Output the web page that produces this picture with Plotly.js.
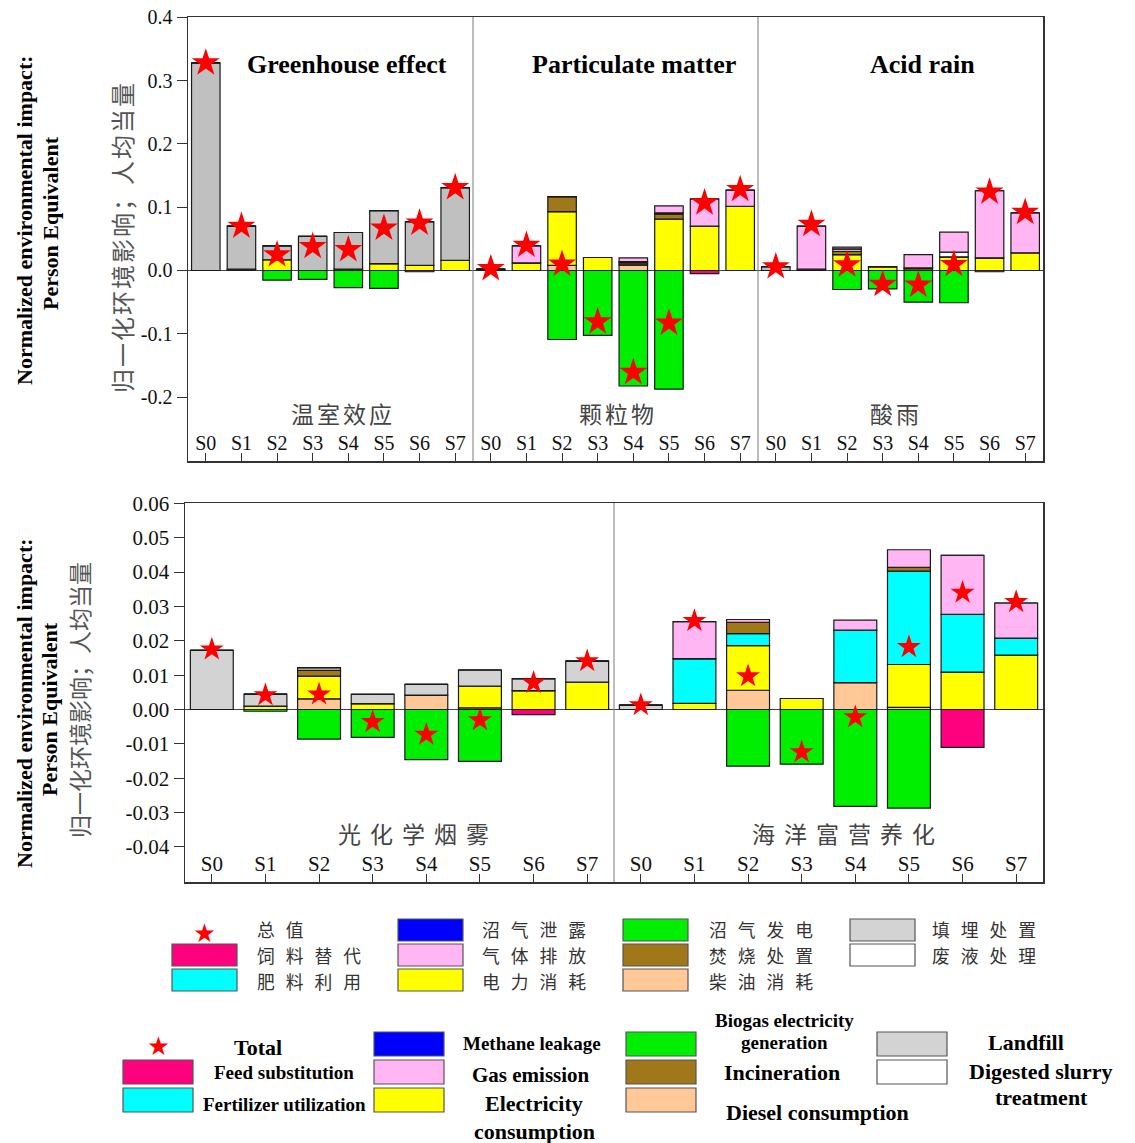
<!DOCTYPE html>
<html><head><meta charset="utf-8">
<script src="https://cdn.plot.ly/plotly-3.0.1.min.js"></script>
<style>body{margin:0;background:#fff}#chart{width:1135px;height:1143px}</style>
</head><body><div id="chart"></div>
<script>
// ---------- DATA ----------
const scenarios = ['S0','S1','S2','S3','S4','S5','S6','S7'];
const topPanelsCn = ['温室效应','颗粒物','酸雨'];
const topPanelsEn = ['Greenhouse effect','Particulate matter','Acid rain'];
const bottomPanelsCn = ['光化学烟雾','海洋富营养化'];
const yTitleEn = ['Normalized environmental impact:','Person Equivalent'];
const yTitleCn = '归一化环境影响；人均当量';
const yTicksTop = [-0.3,-0.2,-0.1,0,0.1,0.2,0.3,0.4];
const yTicksBottom = [-0.05,-0.04,-0.03,-0.02,-0.01,0,0.01,0.02,0.03,0.04,0.05,0.06];

// top chart: Greenhouse effect (8) | Particulate matter (8) | Acid rain (8)
const topFeed        = [0,0,0,0,0,0,-0.002,0,   0,0,0,0,0,0,-0.005,0,   0,0,0,0,0,0,-0.002,0];
const topMethane     = [0,0,0,0,0,0,0,0,        0,0,0,0,0,0,0,0,        0,0,0,0,0,0,0,0];
const topDiesel      = [0,0,0,0,0,0,0,0,        0,0,0.008,0,0.009,0,0,0, 0,0,0,0,0,0,0,0];
const topElectricity = [0,0.002,0.017,0,0.002,0.011,0.008,0.016,  0,0.012,0.085,0.0205,0,0.081,0.070,0.1015,  0,0,0.025,0.006,0,0.0216,0.020,0.028];
const topFertilizer  = [0,0,0,0,0,0,0,0,        0,0,0,0,0,0,0,0,        0,0,0,0,0,0,0,0];
const topIncineration= [0,0,0,0,0,0,0,0,        0,0,0.0237,0,0.003,0.008,0,0,  0,0.002,0.005,0,0.003,0,0,0];
const topLandfill    = [0.328,0.068,0.022,0.054,0.058,0.0836,0.069,0.115,  0.002,0,0,0,0.002,0.002,0,0,  0.006,0,0.004,0,0.001,0,0,0];
const topSlurry      = [0,0,0,0,0,0,0,0,        0,0,0,0,0,0,0,0,        0,0,0,0,0,0.0074,0,0];
const topGas         = [0,0,0,0,0,0,0,0,        0,0.027,0,0,0.006,0.011,0.043,0.0255,  0,0.068,0.003,0,0.021,0.0315,0.106,0.063];
const topBiogas      = [0,0,-0.0153,-0.014,-0.027,-0.0284,0,0,  0,0,-0.109,-0.1025,-0.1825,-0.1875,0,0,  0,0,-0.030,-0.029,-0.050,-0.051,0,0];
const topTotal       = [0.328,0.070,0.025,0.038,0.033,0.067,0.075,0.131,  0.003,0.040,0.010,-0.081,-0.161,-0.083,0.107,0.128,  0.006,0.073,0.009,-0.022,-0.023,0.0095,0.124,0.092];

// bottom chart: Photochemical smog (8) | Eutrophication (8)
const botFeed        = [0,0,0,0,0,0,-0.0015,0,  0,0,0,0,0,0,-0.011,0];
const botMethane     = [0,0,0,0,0,0,0,0,        0,0,0,0,0,0,0,0];
const botDiesel      = [0,0,0.0031,0,0.0042,0.0005,0,0,  0,0,0.0056,0,0.0078,0.0006,0,0];
const botElectricity = [0,0.001,0.0066,0.0017,0,0.0063,0.0055,0.008,  0,0.0018,0.013,0.0032,0,0.0125,0.0109,0.0158];
const botFertilizer  = [0,0,0,0,0,0,0,0,        0,0.013,0.0035,0,0.0153,0.0272,0.0168,0.005];
const botIncineration= [0,0,0.0017,0,0,0,0,0,   0,0,0.0033,0,0,0.0011,0,0];
const botLandfill    = [0.0172,0.0035,0.0008,0.0027,0.0031,0.0047,0.0035,0.0061,  0.0013,0,0,0,0,0,0,0];
const botSlurry      = [0,0,0,0,0,0,0,0,        0,0,0,0,0,0,0,0];
const botGas         = [0,0,0,0,0,0,0,0,        0,0.0108,0.0008,0,0.0029,0.0051,0.0172,0.0102];
const botBiogas      = [0,-0.0005,-0.0086,-0.0081,-0.0146,-0.0151,0,0,  0,0,-0.0165,-0.0159,-0.0282,-0.0287,0,0];
const botTotal       = [0.0175,0.0042,0.0044,-0.0036,-0.0073,-0.0031,0.0078,0.0141,  0.0013,0.0258,0.0097,-0.0124,-0.0022,0.0182,0.034,0.0313];

// components: names and colours
const compNamesEn = ['Feed substitution','Methane leakage','Diesel consumption','Electricity consumption','Fertilizer utilization','Incineration','Landfill','Digested slurry treatment','Gas emission','Biogas electricity generation'];
const compNamesCn = ['饲料替代','沼气泄露','柴油消耗','电力消耗','肥料利用','焚烧处置','填埋处置','废液处理','气体排放','沼气发电'];
const compColors  = ['#FF007F','#0000FF','#FFC896','#FFFF00','#00FFFF','#A0781A','#D3D3D3','#FFFFFF','#FFB6F2','#00EE00'];
const topLandfillColor = '#C0C0C0';
const totalNameCn = '总值', totalNameEn = 'Total';

// ---------- BUILD ----------
const topSeries = [topFeed,topMethane,topDiesel,topElectricity,topFertilizer,topIncineration,topLandfill,topSlurry,topGas,topBiogas];
const botSeries = [botFeed,botMethane,botDiesel,botElectricity,botFertilizer,botIncineration,botLandfill,botSlurry,botGas,botBiogas];
const xTop = topTotal.map((_,i)=>i);
const xBot = botTotal.map((_,i)=>i);
const traces = [];
topSeries.forEach((s,k)=>{
  traces.push({type:'bar',x:xTop,y:s,xaxis:'x',yaxis:'y',name:compNamesEn[k],showlegend:false,
    marker:{color:(k===6?topLandfillColor:compColors[k]),line:{color:'#1a1a1a',width:1.2}},hoverinfo:'y'});
});
botSeries.forEach((s,k)=>{
  traces.push({type:'bar',x:xBot,y:s,xaxis:'x2',yaxis:'y2',name:compNamesEn[k],showlegend:false,
    marker:{color:compColors[k],line:{color:'#1a1a1a',width:1.2}},hoverinfo:'y'});
});
traces.push({type:'scatter',mode:'markers',x:xTop,y:topTotal,xaxis:'x',yaxis:'y',showlegend:false,
  marker:{symbol:'star',size:21,color:'#FF0000',line:{width:0}}});
traces.push({type:'scatter',mode:'markers',x:xBot,y:botTotal,xaxis:'x2',yaxis:'y2',showlegend:false,
  marker:{symbol:'star',size:18,color:'#FF0000',line:{width:0}}});

const W=1135,H=1143;
const PX=x=>x/W, PY=y=>1-y/H;
const serif='Liberation Serif, Times New Roman, serif';
const cjk='Noto Sans CJK SC, sans-serif';
const ls=(t,s)=>'<span style="letter-spacing:'+s+'px">'+t+'</span>';

const ann=[]; const shapes=[];
function txt(t,x,y,size,opts={}){
  ann.push(Object.assign({text:t,x:PX(x),y:PY(y),xref:'paper',yref:'paper',showarrow:false,
    xanchor:'center',yanchor:'middle',font:{family:serif,size:size,color:'#000'}},opts));
}
// panel titles
[[347,topPanelsEn[0]],[634,topPanelsEn[1]],[922,topPanelsEn[2]]].forEach(([x,t])=>txt('<b>'+t+'</b>',x,65,26));
[[343,topPanelsCn[0]],[618,topPanelsCn[1]],[896,topPanelsCn[2]]].forEach(([x,t])=>txt(ls(t,3),x,413,23,{font:{family:cjk,size:23,color:'#444'}}));
[[418,bottomPanelsCn[0]],[848,bottomPanelsCn[1]]].forEach(([x,t])=>txt(ls(t,9),x,833,23,{font:{family:cjk,size:23,color:'#444'}}));
// y titles
txt('<b>'+yTitleEn[0]+'</b>',25,220,22,{textangle:-90});
txt('<b>'+yTitleEn[1]+'</b>',50,223,22,{textangle:-90});
txt(ls(yTitleCn,2),121,237,24,{textangle:-90,font:{family:cjk,size:24,color:'#555'}});
txt('<b>'+yTitleEn[0]+'</b>',24,703,22,{textangle:-90});
txt('<b>'+yTitleEn[1]+'</b>',49,709,22,{textangle:-90});
txt(yTitleCn,79,700,23,{textangle:-90,font:{family:cjk,size:23,color:'#555'}});

// dividers
[7.5,15.5].forEach(v=>shapes.push({type:'line',xref:'x',yref:'y domain',x0:v,x1:v,y0:0,y1:1,line:{color:'#7a7a7a',width:1}}));
shapes.push({type:'line',xref:'x2',yref:'y2 domain',x0:7.5,x1:7.5,y0:0,y1:1,line:{color:'#7a7a7a',width:1}});

// legend (Chinese)
function box(x0,y0,w,h,c){shapes.push({type:'rect',xref:'paper',yref:'paper',x0:PX(x0),x1:PX(x0+w),y0:PY(y0+h),y1:PY(y0),fillcolor:c,line:{color:'#555',width:1.2}});}
const cnCols=[172,398,623,850], cnRows=[919,944,969], cnTextX=[255,480,707,930], cnTextY=[929,955,981];
// layout of legend entries per column: component indices top to bottom (-1 = total star)
const cnColumns=[[-1,0,4],[1,8,3],[9,5,2],[6,7]];
cnColumns.forEach((col,c)=>col.forEach((k,r)=>{
  if(k<0){txt('★',cnCols[c]+32,cnRows[r]+12,22,{font:{family:cjk,size:21,color:'#FF0000'}});}
  else box(cnCols[c],cnRows[r],65,22,compColors[k]);
  txt(ls(k<0?totalNameCn:compNamesCn[k],11),cnTextX[c],cnTextY[r],17.8,{xanchor:'left',font:{family:cjk,size:17.8,color:'#333'}});
}));
// legend (English)
const enCols=[123,374,626,877], enRows=[1032,1060,1088];
const enColumns=[[-1,0,4],[1,8,3],[9,5,2],[6,7]];
enColumns.forEach((col,c)=>col.forEach((k,r)=>{
  if(k<0){txt('★',enCols[c]+35,enRows[r]+12,22,{font:{family:cjk,size:21,color:'#FF0000'}});}
  else box(enCols[c],enRows[r],70,24,compColors[k]);
}));
const enText=[
  [totalNameEn,258,1047,22],
  [compNamesEn[0],284,1072,19],
  [compNamesEn[4],284,1104,19],
  [compNamesEn[1],532,1043,19],
  [compNamesEn[8],531,1075,21],
  ['Electricity',534,1103,22],
  ['consumption',534,1131,22],
  ['Biogas electricity',784,1020,19],
  ['generation',784,1042,19],
  [compNamesEn[5],782,1072,22],
  [compNamesEn[2],817,1112,22],
  [compNamesEn[6],1026,1042,22],
  ['Digested slurry',1041,1071,22],
  ['treatment',1041,1097,22]
];
enText.forEach(([t,x,y,s])=>txt('<b>'+t+'</b>',x,y,s));

const tickFontTop={family:serif,size:20,color:'#111'};
const tickFontBot={family:serif,size:21,color:'#111'};
const layout={
  width:W,height:H,margin:{l:0,r:0,t:0,b:0},paper_bgcolor:'#fff',plot_bgcolor:'#fff',
  barmode:'relative',bargap:0.2,showlegend:false,
  xaxis:{domain:[PX(188),PX(1043)],anchor:'y',range:[-0.5,23.5],tickvals:xTop,ticktext:xTop.map(i=>scenarios[i%8]),
    ticks:'inside',ticklen:8,tickcolor:'#333',ticklabelposition:'inside',tickfont:tickFontTop,
    showline:true,mirror:true,linecolor:'#333',linewidth:1.5,showgrid:false,zeroline:false},
  yaxis:{domain:[PY(461),PY(17)],anchor:'x',range:[-0.301,0.4005],tickvals:yTicksTop,ticktext:yTicksTop.map(v=>v.toFixed(1)),
    ticks:'outside',ticklen:10,tickcolor:'#333',tickfont:{family:serif,size:20,color:'#111'},
    showline:true,mirror:true,linecolor:'#333',linewidth:1.5,showgrid:false,zeroline:true,zerolinecolor:'#444',zerolinewidth:1},
  xaxis2:{domain:[PX(185),PX(1043)],anchor:'y2',range:[-0.5,15.5],tickvals:xBot,ticktext:xBot.map(i=>scenarios[i%8]),
    ticks:'inside',ticklen:8,tickcolor:'#333',ticklabelposition:'inside',tickfont:tickFontBot,
    showline:true,mirror:true,linecolor:'#333',linewidth:1.5,showgrid:false,zeroline:false},
  yaxis2:{domain:[PY(882),PY(503)],anchor:'x2',range:[-0.0502,0.0601],tickvals:yTicksBottom,ticktext:yTicksBottom.map(v=>v.toFixed(2)),
    ticks:'outside',ticklen:10,tickcolor:'#333',tickfont:{family:serif,size:21,color:'#111'},
    showline:true,mirror:true,linecolor:'#333',linewidth:1.5,showgrid:false,zeroline:true,zerolinecolor:'#444',zerolinewidth:1},
  annotations:ann,shapes:shapes
};
Plotly.newPlot('chart',traces,layout,{displayModeBar:false,staticPlot:true});
</script></body></html>
